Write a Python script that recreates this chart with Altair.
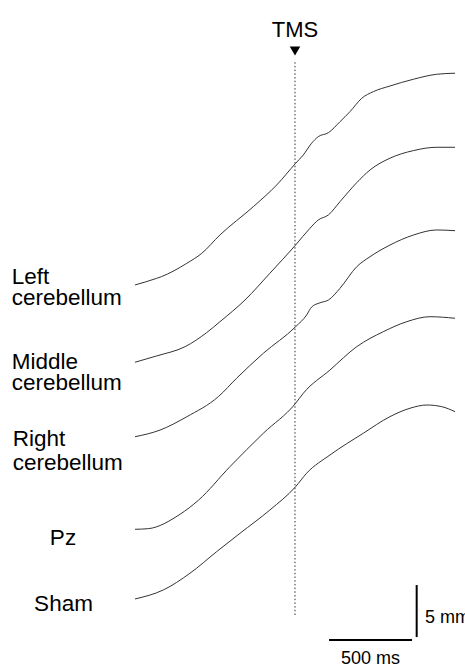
import altair as alt
import pandas as pd

# ---- data (time in ms relative to TMS, amplitude in mm) ----
series_names = ["Left cerebellum", "Middle cerebellum", "Right cerebellum", "Pz", "Sham"]

left_t = [-964, -833, -805, -652, -562, -452, -251, -110, 4, 50, 100, 140, 201, 271, 331, 402, 472, 572, 713, 854, 964]
left_v = [0, 0.64, 0.80, 2.08, 3.04, 4.81, 7.53, 9.62, 11.70, 12.50, 13.63, 14.26, 14.64, 15.70, 16.66, 17.95, 18.59, 19.13, 19.78, 20.26, 20.36]

middle_t = [-964, -833, -662, -532, -452, -301, -151, 4, 90, 140, 201, 271, 372, 452, 572, 713, 854, 964]
middle_v = [0, 0.61, 1.50, 2.85, 3.90, 5.99, 8.56, 11.28, 12.88, 13.68, 14.16, 15.44, 17.27, 18.49, 19.62, 20.35, 20.67, 20.67]

right_t = [-964, -813, -652, -462, -352, -191, 4, 70, 100, 151, 201, 271, 372, 452, 572, 713, 854, 964]
right_v = [0, 0.64, 1.92, 3.85, 5.62, 8.02, 10.58, 11.70, 12.47, 12.88, 13.14, 14.27, 16.35, 17.31, 18.43, 19.39, 19.88, 19.81]

pz_t = [-964, -884, -693, -582, -392, -191, 4, 50, 211, 372, 532, 673, 813, 964]
pz_v = [0, 0.06, 1.44, 2.79, 6.02, 9.23, 12.12, 13.08, 15.32, 17.56, 19.00, 19.96, 20.44, 20.29]

sham_t = [-964, -793, -633, -472, -331, -151, 4, 70, 211, 411, 572, 693, 794, 884, 964]
sham_v = [0, 0.87, 2.47, 4.55, 6.32, 8.56, 10.80, 12.09, 13.85, 15.93, 17.53, 18.34, 18.65, 18.49, 18.01]

# vertical stacking offsets of each trace (mm)
offsets = [36.73, 29.30, 22.14, 13.24, 6.54]

# label text lines
label_lines = [["Left", "cerebellum"], ["Middle", "cerebellum"], ["Right", "cerebellum"], ["Pz"], ["Sham"]]

scale_ms = 500
scale_mm = 5

# ---- layout (canvas mapped to data units) ----
W, H = 465, 667
x_dom = [-1777.1, 1024.1]
y_dom = [0, 64.13]
xs = alt.Scale(domain=x_dom, nice=False, zero=False)
ys = alt.Scale(domain=y_dom, nice=False, zero=False)
FONT = "Liberation Sans"

rows = []
for name, t, v, off in zip(series_names,
                           [left_t, middle_t, right_t, pz_t, sham_t],
                           [left_v, middle_v, right_v, pz_v, sham_v],
                           offsets):
    for i, (ti, vi) in enumerate(zip(t, v)):
        rows.append({"series": name, "t": ti, "y": vi + off, "order": i})
traces = pd.DataFrame(rows)

X = lambda f: alt.X(f, scale=xs, axis=None)
Y = lambda f: alt.Y(f, scale=ys, axis=None)

lines = alt.Chart(traces).mark_line(
    color="#333333", strokeWidth=1, interpolate="monotone"
).encode(x=X("t:Q"), y=Y("y:Q"), detail="series:N", order="order:Q")

# TMS dotted line and marker
tms_df = pd.DataFrame({"t": [0], "y1": [5.0], "y2": [58.17]})
tms_line = alt.Chart(tms_df).mark_rule(
    color="#333333", strokeWidth=1, strokeDash=[1.5, 2.2]
).encode(x=X("t:Q"), y=Y("y1:Q"), y2="y2:Q")

tri_df = pd.DataFrame({"t": [0], "y": [59.23]})
tri = alt.Chart(tri_df).mark_point(
    shape="triangle-down", filled=True, color="#000000", size=110, opacity=1
).encode(x=X("t:Q"), y=Y("y:Q"))

tms_txt_df = pd.DataFrame({"t": [0], "y": [60.6], "text": ["TMS"]})
tms_txt = alt.Chart(tms_txt_df).mark_text(
    fontSize=22, font=FONT, align="center", baseline="alphabetic", color="#000000"
).encode(x=X("t:Q"), y=Y("y:Q"), text="text:N")

# series labels
lab_pos = [(-1706.6, [36.80, 34.81], "left"),
           (-1706.6, [28.63, 26.63], "left"),
           (-1700.0, [21.25, 18.94], "left"),
           (-1397.6, [11.73], "center"),
           (-1394.5, [5.38], "center")]
lab_rows = []
for lines_txt, (lx, lys, al) in zip(label_lines, lab_pos):
    for txt, ly in zip(lines_txt, lys):
        lab_rows.append({"t": lx, "y": ly, "text": txt, "align": al})
lab_df = pd.DataFrame(lab_rows)
labels_left = alt.Chart(lab_df[lab_df["align"] == "left"]).mark_text(
    fontSize=22.5, font=FONT, align="left", baseline="alphabetic", color="#000000"
).encode(x=X("t:Q"), y=Y("y:Q"), text="text:N")
labels_center = alt.Chart(lab_df[lab_df["align"] == "center"]).mark_text(
    fontSize=22.5, font=FONT, align="center", baseline="alphabetic", color="#000000"
).encode(x=X("t:Q"), y=Y("y:Q"), text="text:N")

# scale bars
hbar_df = pd.DataFrame({"t1": [205], "t2": [205 + scale_ms], "y": [2.60]})
hbar = alt.Chart(hbar_df).mark_rule(color="#000000", strokeWidth=2).encode(
    x=X("t1:Q"), x2="t2:Q", y=Y("y:Q"))
vbar_df = pd.DataFrame({"t": [733], "y1": [2.88], "y2": [2.88 + scale_mm]})
vbar = alt.Chart(vbar_df).mark_rule(color="#000000", strokeWidth=2).encode(
    x=X("t:Q"), y=Y("y1:Q"), y2="y2:Q")

sb_txt_df = pd.DataFrame({"t": [783, 455], "y": [4.26, 0.26],
                          "text": [f"{scale_mm} mm", f"{scale_ms} ms"]})
sb_mm = alt.Chart(sb_txt_df.iloc[[0]]).mark_text(
    fontSize=18, font=FONT, align="left", baseline="alphabetic", color="#000000"
).encode(x=X("t:Q"), y=Y("y:Q"), text="text:N")
sb_ms = alt.Chart(sb_txt_df.iloc[[1]]).mark_text(
    fontSize=18, font=FONT, align="center", baseline="alphabetic", color="#000000"
).encode(x=X("t:Q"), y=Y("y:Q"), text="text:N")

chart = alt.layer(
    tms_line, lines, tri, tms_txt, labels_left, labels_center, hbar, vbar, sb_mm, sb_ms
).properties(
    width=W, height=H, padding=0, autosize=alt.AutoSizeParams(type="none"),
    background="white",
).configure_view(stroke=None)

chart.save("out.html", embed_options={"renderer": "svg", "actions": False})
